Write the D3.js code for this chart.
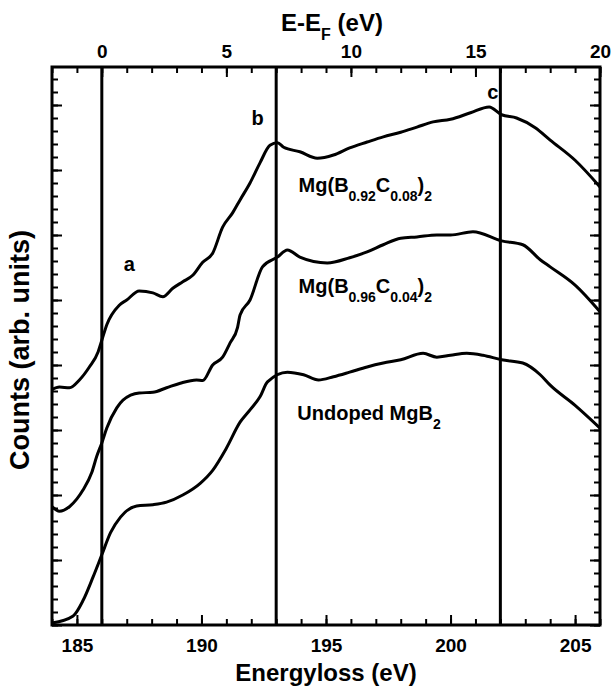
<!DOCTYPE html>
<html>
<head>
<meta charset="utf-8">
<script src="https://cdn.jsdelivr.net/npm/d3@7"></script>
<style>
  body { margin: 0; background: #fff; }
  text { font-family: "Liberation Sans", Arial, sans-serif; font-weight: bold; fill: #000; }
</style>
</head>
<body>
<div id="chart"></div>
<script>
// tick labels
const bottomTicks = [185, 190, 195, 200, 205];
const topTicks = [0, 5, 10, 15, 20];
const markerLines = [186, 193, 202];

// Mg(B0.92C0.08)2
const energyC08 = [184.0, 184.3, 184.7, 185.1, 185.5, 185.85, 186.0, 186.2, 186.7, 187.0, 187.5, 188.05, 188.45, 188.85, 189.25, 189.65, 190.05, 190.45, 190.85, 191.25, 191.55, 191.95, 192.35, 192.75, 193.05, 193.3, 193.95, 194.65, 195.3, 195.95, 196.65, 197.3, 198.0, 198.65, 199.3, 200.0, 200.8, 201.55, 202.05, 202.65, 203.4, 204.0, 205.0, 206.0];
const countsC08 = [3.62, 3.66, 3.65, 3.77, 3.97, 4.2, 4.38, 4.62, 4.92, 5.0, 5.14, 5.11, 5.05, 5.18, 5.28, 5.38, 5.58, 5.72, 6.12, 6.34, 6.54, 6.8, 7.11, 7.38, 7.42, 7.35, 7.28, 7.18, 7.23, 7.34, 7.43, 7.51, 7.58, 7.66, 7.74, 7.78, 7.88, 7.97, 7.85, 7.8, 7.65, 7.46, 7.15, 6.74];

// Mg(B0.96C0.04)2
const energyC04 = [184.0, 184.3, 184.7, 185.0, 185.25, 185.6, 185.8, 186.0, 186.2, 186.6, 186.85, 187.5, 188.05, 188.6, 189.15, 189.8, 190.05, 190.45, 190.85, 191.15, 191.45, 191.55, 191.95, 192.45, 193.05, 193.45, 193.95, 195.05, 195.95, 196.65, 197.3, 198.0, 198.65, 199.45, 200.0, 200.9, 202.05, 202.9, 203.6, 204.0, 205.0, 206.0];
const countsC04 = [1.82, 1.75, 1.82, 1.94, 2.08, 2.35, 2.6, 2.8, 3.03, 3.34, 3.46, 3.57, 3.58, 3.65, 3.72, 3.77, 3.76, 4.0, 4.12, 4.34, 4.58, 4.77, 5.0, 5.51, 5.66, 5.77, 5.66, 5.57, 5.65, 5.74, 5.85, 5.95, 5.97, 6.0, 6.0, 6.05, 5.91, 5.85, 5.62, 5.51, 5.23, 4.82];

// undoped MgB2
const energyPure = [184.0, 184.85, 185.25, 185.65, 186.0, 186.35, 186.75, 187.4, 188.05, 188.6, 189.25, 189.95, 190.45, 191.0, 191.55, 191.95, 192.35, 192.65, 193.45, 194.1, 194.7, 195.3, 195.95, 196.65, 197.3, 198.0, 198.9, 199.45, 200.0, 200.65, 201.3, 202.05, 202.9, 203.6, 204.0, 205.0, 206.0];
const countsPure = [0.03, 0.14, 0.38, 0.74, 1.08, 1.42, 1.66, 1.83, 1.85, 1.89, 2.0, 2.18, 2.38, 2.72, 3.12, 3.31, 3.51, 3.74, 3.89, 3.85, 3.77, 3.82, 3.89, 3.97, 4.03, 4.08, 4.18, 4.12, 4.15, 4.18, 4.15, 4.08, 4.03, 3.85, 3.69, 3.38, 3.03];

const width = 614;
const height = 690;
const margin = { top: 67, right: 14, bottom: 65, left: 52 };

const svg = d3.select('#chart')
  .append('svg')
  .attr('width', width)
  .attr('height', height);

const bottomY = height - margin.bottom;

const x = d3.scaleLinear().domain([184, 206]).range([margin.left, width - margin.right]);
const xTop = d3.scaleLinear().domain([-2, 20]).range([margin.left, width - margin.right]);
// 65 px per unit, bottom of frame at 0
const y = d3.scaleLinear().domain([0, (bottomY - margin.top) / 65]).range([bottomY, margin.top]);

// axes: minor ticks first, then major ticks with labels
const addAxis = (axis, transform) => {
  const g = svg.append('g').attr('transform', transform).call(axis);
  g.select('.domain').remove();
  g.selectAll('line').attr('stroke', '#000').attr('stroke-width', 2);
  g.selectAll('text').style('font-size', '19px').style('font-family', '"Liberation Sans", Arial, sans-serif').style('font-weight', 'bold');
  return g;
};

addAxis(d3.axisBottom(x).tickValues(d3.range(184, 207, 1)).tickSize(-6).tickFormat(''), `translate(0,${bottomY})`);
addAxis(d3.axisBottom(x).tickValues(bottomTicks).tickSize(-10).tickPadding(14).tickFormat(d3.format('d')), `translate(0,${bottomY})`);

addAxis(d3.axisTop(xTop).tickValues(d3.range(-2, 21, 1)).tickSize(-6).tickFormat(''), `translate(0,${margin.top})`);
addAxis(d3.axisTop(xTop).tickValues(topTicks).tickSize(-10).tickPadding(9).tickFormat(d3.format('d')), `translate(0,${margin.top})`);

addAxis(d3.axisLeft(y).tickValues(d3.range(0, 8.55, 0.2)).tickSize(-6).tickFormat(''), `translate(${margin.left},0)`);
addAxis(d3.axisLeft(y).tickValues(d3.range(0, 9, 1)).tickSize(-10).tickFormat(''), `translate(${margin.left},0)`);
addAxis(d3.axisRight(y).tickValues(d3.range(0, 8.55, 0.2)).tickSize(-6).tickFormat(''), `translate(${width - margin.right},0)`);
addAxis(d3.axisRight(y).tickValues(d3.range(0, 9, 1)).tickSize(-10).tickFormat(''), `translate(${width - margin.right},0)`);

// vertical marker lines
svg.selectAll('.marker')
  .data(markerLines)
  .enter()
  .append('line')
  .attr('x1', (d) => x(d))
  .attr('x2', (d) => x(d))
  .attr('y1', margin.top)
  .attr('y2', bottomY)
  .attr('stroke', '#000')
  .attr('stroke-width', 3);

// spectra
const series = [
  { energy: energyC08, counts: countsC08 },
  { energy: energyC04, counts: countsC04 },
  { energy: energyPure, counts: countsPure },
];

const line = d3.line()
  .x((d) => x(d[0]))
  .y((d) => y(d[1]))
  .curve(d3.curveMonotoneX);

svg.selectAll('.spectrum')
  .data(series)
  .enter()
  .append('path')
  .attr('fill', 'none')
  .attr('stroke', '#000')
  .attr('stroke-width', 3)
  .attr('stroke-linejoin', 'round')
  .attr('d', (s) => line(s.energy.map((e, i) => [e, s.counts[i]])));

// frame
svg.append('rect')
  .attr('x', margin.left)
  .attr('y', margin.top)
  .attr('width', width - margin.left - margin.right)
  .attr('height', bottomY - margin.top)
  .attr('fill', 'none')
  .attr('stroke', '#000')
  .attr('stroke-width', 3);

// axis titles
svg.append('text')
  .attr('x', (margin.left + width - margin.right) / 2)
  .attr('y', 681)
  .attr('text-anchor', 'middle')
  .style('font-size', '24px')
  .text('Energyloss (eV)');

const topTitle = svg.append('text')
  .attr('x', 332)
  .attr('y', 31)
  .attr('text-anchor', 'middle')
  .style('font-size', '24px');
topTitle.append('tspan').text('E-E');
topTitle.append('tspan').attr('dy', 9).style('font-size', '16px').text('F');
topTitle.append('tspan').attr('dy', -9).text(' (eV)');

svg.append('text')
  .attr('transform', `translate(29,${(margin.top + bottomY) / 2 + 4}) rotate(-90)`)
  .attr('text-anchor', 'middle')
  .style('font-size', '27px')
  .text('Counts (arb. units)');

// peak letters
const peakText = (t, e, c) => svg.append('text')
  .attr('x', x(e))
  .attr('y', y(c))
  .attr('text-anchor', 'middle')
  .style('font-size', '20px')
  .text(t);
peakText('a', 187.1, 5.45);
peakText('b', 192.25, 7.7);
peakText('c', 201.7, 8.1);

// sample labels with subscripts
const sampleLabel = (e, c, parts) => {
  const t = svg.append('text').attr('x', x(e)).attr('y', y(c)).style('font-size', '20px');
  let down = false;
  parts.forEach(([str, sub]) => {
    const span = t.append('tspan').text(str);
    if (sub && !down) { span.attr('dy', 9).style('font-size', '14px'); down = true; }
    else if (sub) { span.style('font-size', '14px'); }
    else if (down) { span.attr('dy', -9); down = false; }
  });
};
sampleLabel(193.9, 6.66, [['Mg(B'], ['0.92', 1], ['C'], ['0.08', 1], [')'], ['2', 1]]);
sampleLabel(193.9, 5.11, [['Mg(B'], ['0.96', 1], ['C'], ['0.04', 1], [')'], ['2', 1]]);
sampleLabel(193.85, 3.15, [['Undoped MgB'], ['2', 1]]);
</script>
</body>
</html>
